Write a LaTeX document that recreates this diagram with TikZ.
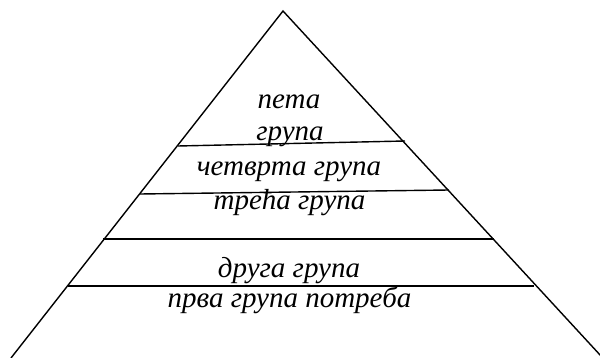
\documentclass[tikz,border=0pt]{standalone}
\usepackage{fontspec}
\setmainfont{Liberation Serif}
\begin{document}
\begin{tikzpicture}[x=1pt,y=-1pt,
  edge/.style={line width=1.4pt},
  lbl/.style={font=\itshape\fontsize{29}{34}\selectfont, anchor=base, inner sep=0pt}]
\useasboundingbox (0,0) rectangle (600,358);
\coordinate (apex) at (283,11);
\coordinate (bl) at (11,358);
\coordinate (br) at (601,356);
\draw[edge, line join=miter] (bl) -- (apex) -- (br);
\coordinate (l1a) at (178,146); \coordinate (l1b) at (405,141);
\coordinate (l2a) at (140,194); \coordinate (l2b) at (449,190);
\coordinate (l3a) at (103,239); \coordinate (l3b) at (494,239);
\coordinate (l4a) at (68,286);  \coordinate (l4b) at (534,286);
\draw[edge] (l1a) -- (l1b);
\draw[edge] (l2a) -- (l2b);
\draw[edge] (l3a) -- (l3b);
\draw[edge] (l4a) -- (l4b);
\node[lbl] (t5a) at (289,109) {пета};
\node[lbl] (t5b) at (290,141) {група};
\node[lbl] (t4) at (289,176) {четврта група};
\node[lbl] (t3) at (289.5,210) {трећа група};
\node[lbl] (t2) at (289,277) {друга група};
\node[lbl] (t1) at (289.5,308) {прва група потреба};
\end{tikzpicture}
\end{document}
